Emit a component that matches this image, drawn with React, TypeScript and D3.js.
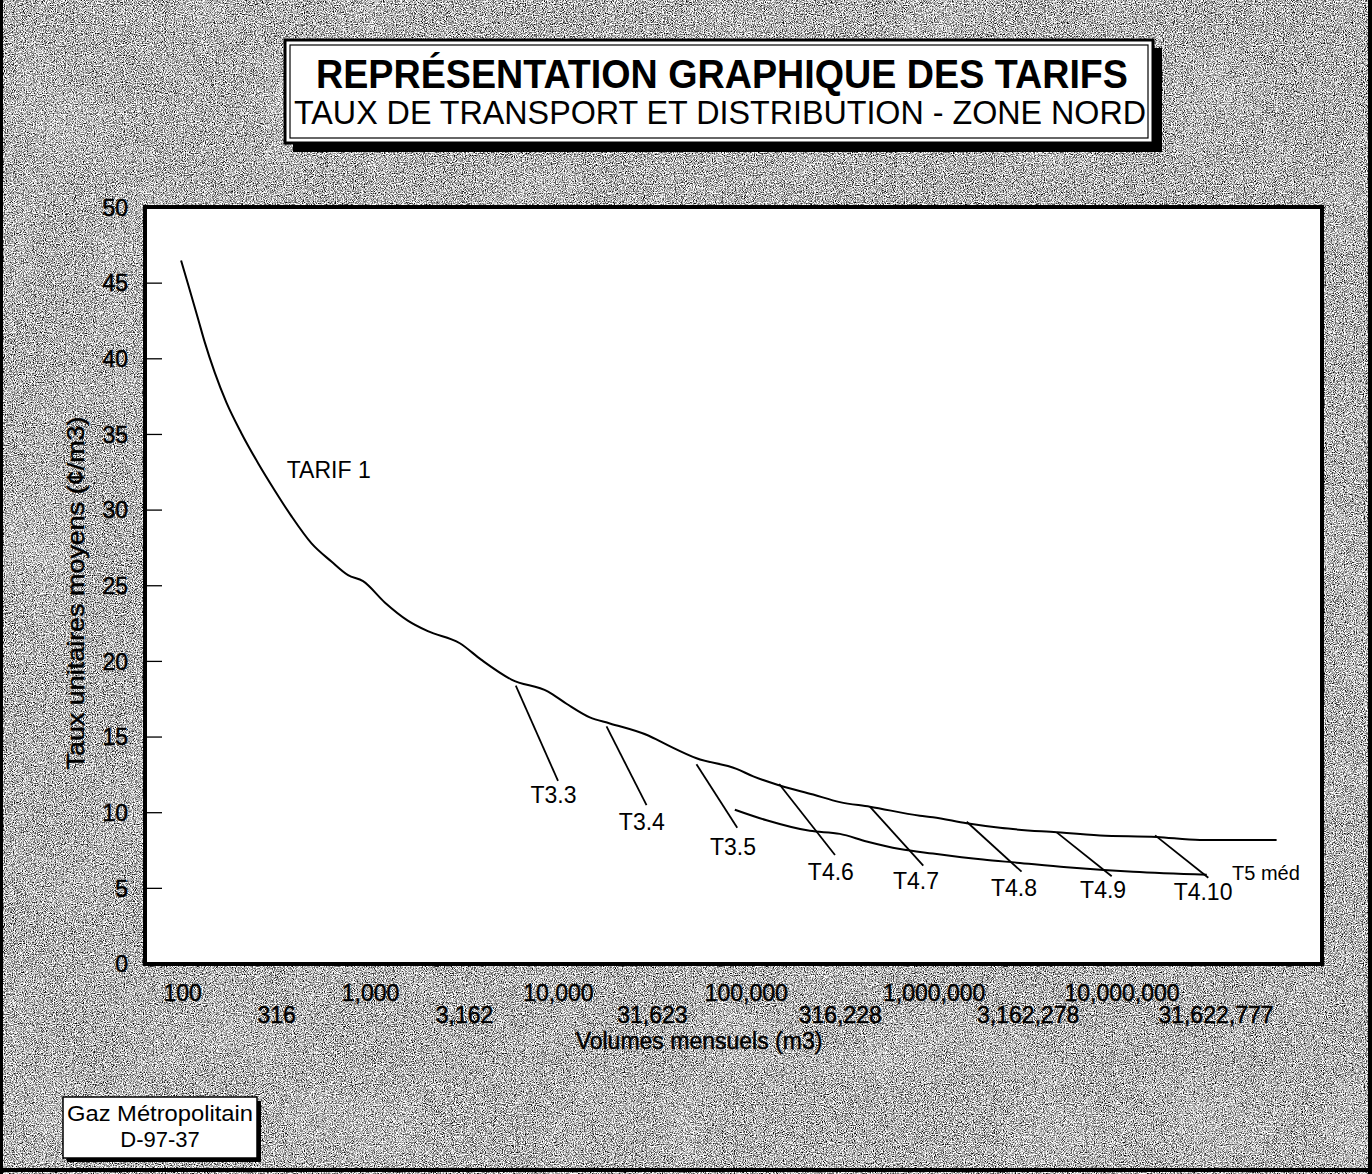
import React from "react"
import * as d3 from "d3"

// upper curve: Tarif 1 then the tarif 3/4 blocks (volume m3, rate ¢/m3)
const upperVolumes = [
  98, 107, 121, 131, 148, 171, 205, 252, 309, 379, 485, 619, 759, 912, 1190, 1578, 2017, 2986,
  3894, 5623, 8810, 11040, 14690, 18780, 30060, 37670, 54330, 88720, 108900, 150900, 227000,
  314800, 454700, 839500, 985000, 1490000, 2240000, 4490000, 7640000, 15300000, 26000000, 66500000,
]
const upperRates = [
  46.5, 44.9, 42.6, 41.1, 39.1, 37.1, 35.1, 33.1, 31.3, 29.6, 27.8, 26.6, 25.7, 25.3, 23.9, 22.7,
  22.0, 21.2, 20.1, 18.8, 18.0, 17.2, 16.3, 15.9, 15.1, 14.5, 13.6, 12.9, 12.4, 11.8, 11.2, 10.7,
  10.4, 9.8, 9.7, 9.3, 9.0, 8.7, 8.5, 8.4, 8.2, 8.2,
]

// lower curve: T5 méd
const t5Volumes = [86900, 128200, 217800, 314800, 437200, 657700, 985000, 1820000, 2750000, 5080000, 11460000, 28250000]
const t5Rates = [10.2, 9.5, 8.8, 8.6, 8.1, 7.6, 7.3, 6.9, 6.7, 6.4, 6.1, 5.9]

// short branch segments
const branchNames = ["T3.3", "T3.4", "T3.5", "T4.6", "T4.7", "T4.8", "T4.9", "T4.10"]
const branchStartVol = [5930, 18030, 54300, 149600, 454700, 1490000, 4490000, 15000000]
const branchStartRate = [18.4, 15.7, 13.2, 11.9, 10.4, 9.4, 8.7, 8.5]
const branchEndVol = [9950, 29440, 89500, 296500, 875000, 2920000, 8810000, 28800000]
const branchEndRate = [12.1, 10.5, 9.0, 7.2, 6.5, 6.1, 5.8, 5.7]
const branchLabelVol = [9420, 27800, 84900, 282000, 800000, 2660000, 7930000, 27000000]
const branchLabelRate = [10.64, 8.86, 7.2, 5.55, 4.96, 4.49, 4.36, 4.23]

const xTickValues = [100, 316, 1000, 3162, 10000, 31623, 100000, 316228, 1000000, 3162278, 10000000, 31622777]
const yTickValues = [0, 5, 10, 15, 20, 25, 30, 35, 40, 45, 50]

const W = 1372
const H = 1174
const plot = { left: 145, top: 207, right: 1322, bottom: 964 }
const font = "Arial, 'Liberation Sans', Helvetica, sans-serif"

export default function App() {
  const x = d3.scaleLog().domain([63, 1.16e8]).range([plot.left, plot.right])
  const y = d3.scaleLinear().domain([0, 50]).range([plot.bottom, plot.top + 0.5])
  const smooth = d3.line<[number, number]>()
    .x((d) => x(d[0]))
    .y((d) => y(d[1]))
    .curve(d3.curveMonotoneX)
  const straight = d3.line<[number, number]>()
    .x((d) => x(d[0]))
    .y((d) => y(d[1]))

  const upper = upperVolumes.map((v, i) => [v, upperRates[i]] as [number, number])
  const lower = t5Volumes.map((v, i) => [v, t5Rates[i]] as [number, number])
  const fmt = d3.format(",")

  // text sitting on the scanned grey gets a thin stroke to look heavier
  const ink = { stroke: "#000", strokeWidth: 0.45 }

  return (
    <svg width={W} height={H} style={{ position: "absolute", left: 0, top: 0 }} fontFamily={font}>
      <defs>
        <filter id="grain" x="0" y="0" width="100%" height="100%" colorInterpolationFilters="sRGB">
          <feTurbulence type="fractalNoise" baseFrequency="0.9" numOctaves="2" seed="7" />
          <feColorMatrix
            type="matrix"
            values="1.5 1.5 1.5 0 -1.55  1.5 1.5 1.5 0 -1.55  1.5 1.5 1.5 0 -1.55  0 0 0 0 1"
          />
        </filter>
        <filter id="blotch" x="0" y="0" width="100%" height="100%" colorInterpolationFilters="sRGB">
          <feTurbulence type="fractalNoise" baseFrequency="0.012" numOctaves="3" seed="3" />
          <feColorMatrix
            type="matrix"
            values="0 0 0 0 1  0 0 0 0 1  0 0 0 0 1  1.2 0 0 0 -0.55"
          />
        </filter>
      </defs>

      {/* scanned grey background */}
      <rect x={0} y={0} width={W} height={H} fill="#a9a9a9" />
      <rect x={0} y={0} width={W} height={H} filter="url(#grain)" />
      <rect x={0} y={0} width={W} height={H} filter="url(#blotch)" opacity={0.35} />

      {/* frame */}
      <rect x={0} y={0} width={3} height={H} fill="#000" />
      <rect x={W - 4} y={0} width={4} height={H} fill="#000" />
      <rect x={0} y={H - 6} width={W} height={4} fill="#000" />

      {/* title box */}
      <rect x={293} y={48} width={869} height={104} fill="#000" />
      <rect x={285} y={40} width={868} height={103} fill="#fff" stroke="#000" strokeWidth={3} />
      <rect x={290} y={45} width={858} height={93} fill="none" stroke="#000" strokeWidth={1.2} />
      <text x={722} y={88} textAnchor="middle" fontSize={40} fontWeight="bold"
        textLength={812} lengthAdjust="spacingAndGlyphs">
        REPRÉSENTATION GRAPHIQUE DES TARIFS
      </text>
      <text x={720} y={124} textAnchor="middle" fontSize={34}
        textLength={852} lengthAdjust="spacingAndGlyphs">
        TAUX DE TRANSPORT ET DISTRIBUTION - ZONE NORD
      </text>

      {/* plot area */}
      <rect x={plot.left} y={plot.top} width={plot.right - plot.left} height={plot.bottom - plot.top}
        fill="#fff" stroke="#000" strokeWidth={4} />

      {/* y axis */}
      {yTickValues.map((t) => (
        <g key={t}>
          {t > 0 && t < 50 && (
            <line x1={plot.left} x2={plot.left + 17} y1={y(t)} y2={y(t)} stroke="#000" strokeWidth={1.3} />
          )}
          <text x={128} y={y(t)} dy="0.36em" textAnchor="end" fontSize={23} {...ink}>{t}</text>
        </g>
      ))}
      <text transform="translate(84,593) rotate(-90)" textAnchor="middle" fontSize={24}
        textLength={353} lengthAdjust="spacingAndGlyphs" {...ink}>
        Taux unitaires moyens (¢/m3)
      </text>

      {/* x axis labels, staggered on two rows */}
      {xTickValues.map((t, i) => (
        <text key={t} x={x(t)} y={i % 2 === 0 ? 1001 : 1023} textAnchor="middle" fontSize={23} {...ink}>
          {fmt(t)}
        </text>
      ))}
      <text x={699} y={1049} textAnchor="middle" fontSize={23} {...ink}>Volumes mensuels (m3)</text>

      {/* curves */}
      <path d={smooth(upper) || ""} fill="none" stroke="#000" strokeWidth={2} strokeLinejoin="round" />
      <path d={smooth(lower) || ""} fill="none" stroke="#000" strokeWidth={2} strokeLinejoin="round" />
      {branchNames.map((name, i) => (
        <g key={name}>
          <path
            d={straight([[branchStartVol[i], branchStartRate[i]], [branchEndVol[i], branchEndRate[i]]]) || ""}
            fill="none" stroke="#000" strokeWidth={1.8}
          />
          <text x={x(branchLabelVol[i])} y={y(branchLabelRate[i])} textAnchor="middle" fontSize={23}>
            {name}
          </text>
        </g>
      ))}
      <text x={x(599)} y={y(32.1)} textAnchor="middle" fontSize={23}>TARIF 1</text>
      <text x={x(38500000)} y={y(5.55)} fontSize={20}>T5 méd</text>

      {/* document reference box */}
      <rect x={67} y={1101} width={194} height={61} fill="#000" />
      <rect x={63} y={1097} width={194} height={61} fill="#fff" stroke="#000" strokeWidth={1.5} />
      <text x={160} y={1121} textAnchor="middle" fontSize={22} textLength={186} lengthAdjust="spacingAndGlyphs">
        Gaz Métropolitain
      </text>
      <text x={160} y={1147} textAnchor="middle" fontSize={22}>D-97-37</text>
    </svg>
  )
}
